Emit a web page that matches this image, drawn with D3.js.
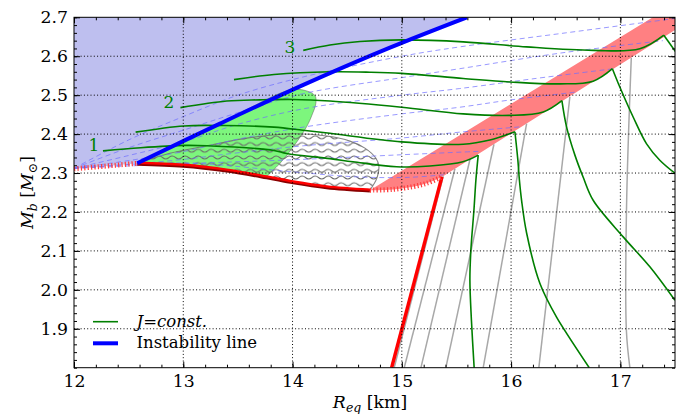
<!DOCTYPE html>
<html><head><meta charset="utf-8">
<script src="https://cdn.jsdelivr.net/npm/d3@7"></script>
<style>body{margin:0;background:#fff;}</style>
</head><body><svg id="c" width="683" height="414"></svg>
<script>
// ---------- data ----------
const xDomain = [12, 17.5];
const yDomain = [1.8, 2.7];
const xTickValues = [12, 13, 14, 15, 16, 17];
const yTickValues = [1.9, 2.0, 2.1, 2.2, 2.3, 2.4, 2.5, 2.6, 2.7];
const xGridValues = [13, 14, 15, 16, 17];
const yGridValues = [1.9, 2.0, 2.1, 2.2, 2.3, 2.4, 2.5, 2.6];

const instabilityLine = [[12.579,2.325],[13.336,2.427],[14.104,2.527],[14.891,2.622],[15.596,2.70]];
const redBoundary = [[12.579,2.325],[13.0,2.320],[13.397,2.3075],[13.763,2.290],[14.006,2.277],[14.312,2.2645],[14.708,2.256]];
const redDottedLeft = [[12.0,2.311],[12.3,2.318],[12.579,2.325]];
const redDottedBand = [[14.708,2.256],[14.92,2.258],[15.10,2.265],[15.23,2.274],[15.367,2.290]];
const redStable = [[15.367,2.290],[14.907,1.80]];
const bandUpper = [[14.708,2.256],[17.6,2.752]];
const bandLower = [[15.367,2.290],[17.6,2.685]];
const greenRegionEdge = [[12.579,2.325],[13.336,2.427],[13.976,2.513],[14.129,2.511],[14.205,2.499],[14.214,2.480],[14.178,2.449],[14.129,2.419],[14.006,2.367],[13.885,2.325],[13.763,2.291]];
const hatchRegionEdge = [[12.579,2.325],[12.878,2.351],[13.217,2.370],[13.610,2.391],[14.004,2.401],[14.315,2.395],[14.525,2.382],[14.662,2.364],[14.763,2.338],[14.790,2.318],[14.772,2.287],[14.708,2.256]];

const jUpper = [
  [[12.265,2.357],[12.610,2.365],[13.006,2.371],[13.217,2.370],[13.830,2.358],[13.946,2.350],[14.342,2.337],[14.553,2.329],[14.952,2.316],[15.257,2.318],[15.559,2.329],[15.699,2.346]],
  [[12.564,2.405],[13.006,2.421],[13.372,2.422],[13.830,2.418],[14.095,2.410],[14.342,2.402],[14.998,2.380],[15.562,2.374],[15.806,2.385],[16.035,2.406]],
  [[12.974,2.468],[13.397,2.485],[13.702,2.488],[14.004,2.489],[14.342,2.485],[14.998,2.469],[15.562,2.452],[15.989,2.448],[16.294,2.457],[16.465,2.486]],
  [[13.464,2.540],[13.830,2.553],[14.342,2.560],[14.708,2.559],[14.998,2.556],[15.562,2.543],[15.989,2.534],[16.446,2.529],[16.751,2.536],[16.927,2.568]],
  [[14.098,2.615],[14.342,2.629],[14.617,2.638],[14.998,2.642],[15.562,2.637],[16.142,2.624],[16.751,2.615],[17.178,2.619],[17.398,2.654]]
];
const jDescent = [
  [[15.699,2.346],[15.678,2.282],[15.660,2.205],[15.632,2.102],[15.623,2.025],[15.637,1.922],[15.662,1.80]],
  [[16.035,2.406],[16.062,2.333],[16.076,2.282],[16.096,2.230],[16.142,2.146],[16.263,2.017],[16.416,1.930],[16.715,1.80]],
  [[16.465,2.486],[16.508,2.418],[16.584,2.346],[16.660,2.289],[16.751,2.230],[17.026,2.136],[17.270,2.059],[17.499,1.973]],
  [[16.927,2.568],[16.995,2.521],[17.117,2.444],[17.240,2.375],[17.361,2.333],[17.52,2.295]],
  [[17.398,2.654],[17.52,2.606]]
];
const jLabels = ["1", "2", "3"];
const jLabelPos = [[12.183,2.371],[12.869,2.483],[13.976,2.625]];

const grayLines = [
  [[15.379,2.292],[14.930,1.80]],
  [[15.486,2.311],[15.022,1.80]],
  [[15.623,2.334],[15.175,1.80]],
  [[15.843,2.374],[15.403,1.80]],
  [[16.142,2.427],[15.745,1.80]],
  [[16.538,2.496],[16.254,1.80]],
  [[17.100,2.596],[17.056,2.205],[17.055,1.896],[17.087,1.80]]
];

const dashedLines = [
  [[12.0,2.312],[12.5,2.385],[13.0,2.445],[13.5,2.50],[14.1,2.547],[15.0,2.600],[15.53,2.624],[16.5,2.66],[17.5,2.697]],
  [[12.0,2.312],[12.5,2.365],[13.0,2.41],[13.5,2.455],[14.1,2.504],[15.0,2.545],[15.53,2.568],[16.5,2.61],[17.39,2.64]],
  [[12.0,2.312],[12.5,2.345],[13.0,2.38],[13.5,2.425],[14.1,2.465],[15.0,2.50],[15.53,2.517],[16.2,2.542],[16.94,2.568]],
  [[12.0,2.312],[12.5,2.332],[13.0,2.355],[13.5,2.387],[14.1,2.418],[15.0,2.452],[15.53,2.469],[16.0,2.488],[16.6,2.508]],
  [[12.0,2.312],[12.5,2.322],[13.0,2.335],[13.5,2.352],[14.1,2.37],[15.0,2.39],[15.53,2.405],[16.1,2.419]],
  [[12.0,2.312],[13.0,2.324],[14.0,2.334],[15.0,2.347],[15.73,2.356]],
  [[12.0,2.312],[13.0,2.326],[14.0,2.303],[14.6,2.290],[15.07,2.289],[15.4,2.296]]
];

const legendLabels = ["J=const.", "Instability line"];

// ---------- layout ----------
const FONT = '"DejaVu Serif"';
const L = 74, R = 675, T = 17.3, B = 367.7;
const x = d3.scaleLinear().domain(xDomain).range([L, R]);
const y = d3.scaleLinear().domain(yDomain).range([B, T]);
const svg = d3.select('#c');
const defs = svg.append('defs');
defs.append('clipPath').attr('id','clip').append('rect')
  .attr('x', L).attr('y', T).attr('width', R - L).attr('height', B - T);
const pat = defs.append('pattern').attr('id','wavy').attr('patternUnits','userSpaceOnUse')
  .attr('width', 13).attr('height', 6.7);
pat.append('path').attr('d','M0,3.35 Q3.25,0.5 6.5,3.35 T13,3.35')
  .attr('fill','none').attr('stroke','#6a6a6a').attr('stroke-width',1);

const lin = d3.line().x(d => x(d[0])).y(d => y(d[1]));
const smooth = d3.line().x(d => x(d[0])).y(d => y(d[1])).curve(d3.curveCatmullRom.alpha(0.5));
const cont = s => s.replace(/^M/, 'L');

const g = svg.append('g').attr('clip-path','url(#clip)');

// lavender unstable region
g.append('path')
  .attr('d', lin(redDottedLeft) + cont(smooth(instabilityLine)) + cont(lin([[15.596,2.75],[11.9,2.75],[11.9,2.311]])) + 'Z')
  .attr('fill', 'rgb(190,191,239)');

// green region
g.append('path')
  .attr('d', smooth(greenRegionEdge) + cont(smooth(redBoundary.filter(d => d[0] <= 13.77).reverse())) + 'Z')
  .attr('fill', 'rgb(125,246,125)').attr('stroke', 'rgba(90,90,90,0.55)').attr('stroke-width', 0.9);

// wavy hatched region
const hatchD = smooth(hatchRegionEdge) + cont(smooth(redBoundary.slice().reverse())) + 'Z';
g.append('path').attr('d', hatchD).attr('fill', 'url(#wavy)')
  .attr('stroke', 'rgba(110,110,110,0.85)').attr('stroke-width', 1.1);

// pink band (mass shedding)
g.append('path')
  .attr('d', lin(bandUpper) + cont(lin(bandLower.slice().reverse())) + cont(smooth(redDottedBand.slice().reverse())) + 'Z')
  .attr('fill', 'rgb(255,128,130)');

// grid
const grid = svg.append('g');
grid.selectAll('.gx').data(xGridValues).join('line')
  .attr('x1', d => x(d)).attr('x2', d => x(d)).attr('y1', T).attr('y2', B)
  .attr('stroke', '#000').attr('stroke-width', 1).attr('stroke-dasharray', '1,2.3');
grid.selectAll('.gy').data(yGridValues).join('line')
  .attr('x1', L).attr('x2', R).attr('y1', d => y(d)).attr('y2', d => y(d))
  .attr('stroke', '#000').attr('stroke-width', 1).attr('stroke-dasharray', '1,2.3');

// dashed lines
g.selectAll('.dl').data(dashedLines).join('path')
  .attr('d', smooth).attr('fill','none')
  .attr('stroke', 'rgba(110,110,255,0.7)').attr('stroke-width', 1).attr('stroke-dasharray', '5,3.5');

// gray lines
g.selectAll('.gl').data(grayLines).join('path')
  .attr('d', smooth).attr('fill','none')
  .attr('stroke', '#a8a8a8').attr('stroke-width', 1.5);

// red stable boundary
g.append('path').attr('d', lin(redStable)).attr('fill','none')
  .attr('stroke', '#ff0000').attr('stroke-width', 3.5);
g.append('path').attr('d', smooth(redBoundary)).attr('fill','none')
  .attr('stroke', '#8a0000').attr('stroke-width', 3).attr('transform','translate(0,0.9)');
g.append('path').attr('d', smooth(redBoundary)).attr('fill','none')
  .attr('stroke', '#ff0000').attr('stroke-width', 2.4).attr('transform','translate(0,-0.5)');
g.append('path').attr('d', lin(redDottedLeft)).attr('fill','none')
  .attr('stroke', '#ff3b3b').attr('stroke-width', 5).attr('stroke-dasharray', '1.2,2.2');
g.append('path').attr('d', smooth(redDottedBand)).attr('fill','none')
  .attr('stroke', '#ff3b3b').attr('stroke-width', 5).attr('stroke-dasharray', '1.2,2.2');

// J = const curves
g.selectAll('.ju').data(jUpper).join('path')
  .attr('d', smooth).attr('fill','none').attr('stroke', '#007f00').attr('stroke-width', 1.6);
g.selectAll('.jd').data(jDescent).join('path')
  .attr('d', smooth).attr('fill','none').attr('stroke', '#007f00').attr('stroke-width', 1.6);

// instability line
g.append('path').attr('d', smooth(instabilityLine)).attr('fill','none')
  .attr('stroke', '#0000ff').attr('stroke-width', 4);

// J labels
svg.selectAll('.jl').data(jLabels).join('text')
  .attr('x', (d, i) => x(jLabelPos[i][0])).attr('y', (d, i) => y(jLabelPos[i][1]))
  .attr('text-anchor','middle').attr('dominant-baseline','central')
  .style('font-family', FONT).attr('fill', '#007f00').attr('font-size', 17).text(d => d);

// axes
function mkAxis(axisFn, scale, vals, size, labels, tf) {
  const a = axisFn(scale).tickValues(vals).tickSizeInner(-size).tickSizeOuter(0).tickPadding(labels ? 7 : 0);
  if (!labels) a.tickFormat('');
  else a.tickFormat(d3.format('.' + (scale === y ? 1 : 0) + 'f'));
  const gg = svg.append('g').attr('transform', tf).call(a);
  gg.select('.domain').remove();
  gg.selectAll('text').style('font-family', FONT).attr('font-size', 17.3).attr('fill', '#000');
  gg.selectAll('line').attr('stroke', '#000');
  return gg;
}
const xMinor = d3.range(12, 17.51, 0.2).map(v => +v.toFixed(2));
const yMinor = d3.range(1.8, 2.701, 0.02).map(v => +v.toFixed(3));
mkAxis(d3.axisBottom, x, xTickValues, 6, true, `translate(0,${B})`);
mkAxis(d3.axisBottom, x, xMinor, 3, false, `translate(0,${B})`);
mkAxis(d3.axisTop, x, xTickValues, 6, false, `translate(0,${T})`);
mkAxis(d3.axisTop, x, xMinor, 3, false, `translate(0,${T})`);
const ly = mkAxis(d3.axisLeft, y, yTickValues, 6, true, `translate(${L},0)`);
ly.selectAll('text').attr('dx', 1);
mkAxis(d3.axisLeft, y, yMinor, 3, false, `translate(${L},0)`);
mkAxis(d3.axisRight, y, yTickValues, 6, false, `translate(${R},0)`);
mkAxis(d3.axisRight, y, yMinor, 3, false, `translate(${R},0)`);

svg.append('rect').attr('x', L).attr('y', T).attr('width', R - L).attr('height', B - T)
  .attr('fill','none').attr('stroke','#000').attr('stroke-width', 1);

// axis labels
const xl = svg.append('text').attr('x', 370).attr('y', 408).attr('text-anchor','middle')
  .style('font-family', FONT).attr('font-size', 17.3);
xl.append('tspan').attr('font-style','italic').text('R');
xl.append('tspan').attr('font-style','italic').attr('font-size', 12.5).attr('dy', 4).text('eq');
xl.append('tspan').attr('dy', -4).text(' [km]');

const yl = svg.append('text').attr('transform', `translate(33,${(T + B) / 2}) rotate(-90)`)
  .attr('text-anchor','middle').style('font-family', FONT).attr('font-size', 17.3);
yl.append('tspan').attr('font-style','italic').text('M');
yl.append('tspan').attr('font-style','italic').attr('font-size', 12.5).attr('dy', 4).text('b');
yl.append('tspan').attr('dy', -4).text(' [');
yl.append('tspan').attr('font-style','italic').text('M');
yl.append('tspan').attr('font-size', 12.5).attr('dy', 4).text('\u2299');
yl.append('tspan').attr('dy', -4).text(']');

// legend
const lg = svg.append('g');
lg.append('line').attr('x1', 93).attr('x2', 118).attr('y1', 321.7).attr('y2', 321.7)
  .attr('stroke', '#007f00').attr('stroke-width', 1.6);
lg.append('line').attr('x1', 93).attr('x2', 118).attr('y1', 343.3).attr('y2', 343.3)
  .attr('stroke', '#0000ff').attr('stroke-width', 4);
const t1 = lg.append('text').attr('x', 136.5).attr('y', 327).attr('font-size', 16.5).style('font-family', FONT);
t1.append('tspan').attr('font-style','italic').text('J');
t1.append('tspan').text('=');
t1.append('tspan').attr('font-style','italic').text('const.');
lg.append('text').attr('x', 136.5).attr('y', 348).attr('font-size', 16.5).style('font-family', FONT).text(legendLabels[1]);
</script></body></html>
